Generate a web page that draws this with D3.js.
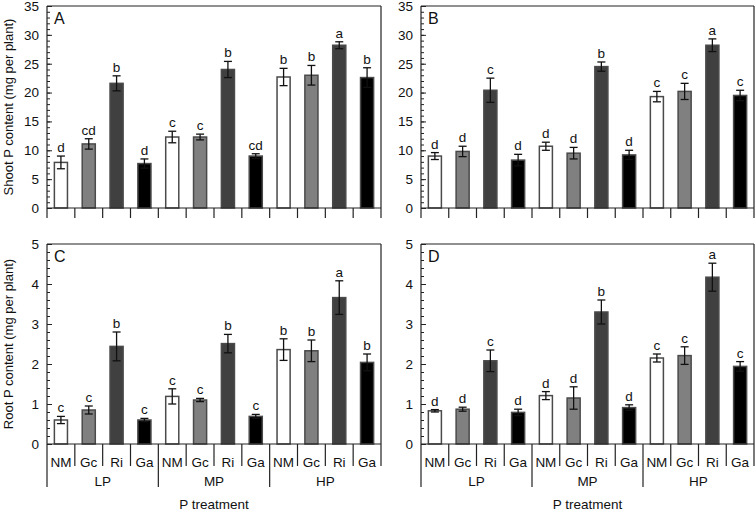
<!DOCTYPE html>
<html>
<head>
<meta charset="utf-8">
<script src="https://cdn.jsdelivr.net/npm/d3@7"></script>
<style>
  body { margin: 0; background: #fff; }
  text { font-family: "Liberation Sans", Arial, Helvetica, sans-serif; fill: #111; }
</style>
</head>
<body>
<div id="chart"></div>
<script>
// P treatment groups and inoculation treatments
const groups = ['LP', 'MP', 'HP']
const fungi = ['NM', 'Gc', 'Ri', 'Ga']
const fungusFill = ['#ffffff', '#808080', '#404040', '#000000']

// shoot P content, experiment A
const shootA = [7.9, 11.1, 21.6, 7.7, 12.3, 12.3, 24.0, 9.0, 22.7, 23.0, 28.2, 22.6]
const shootAErr = [1.1, 0.9, 1.3, 0.8, 1.0, 0.5, 1.4, 0.4, 1.5, 1.7, 0.6, 1.7]
const shootALetters = ['d', 'cd', 'b', 'd', 'c', 'c', 'b', 'cd', 'b', 'b', 'a', 'b']

// shoot P content, experiment B
const shootB = [9.0, 9.8, 20.4, 8.3, 10.7, 9.5, 24.5, 9.2, 19.3, 20.2, 28.2, 19.5]
const shootBErr = [0.6, 0.9, 2.1, 1.0, 0.7, 1.0, 0.8, 0.8, 0.9, 1.4, 1.1, 0.9]
const shootBLetters = ['d', 'd', 'c', 'd', 'd', 'd', 'b', 'd', 'c', 'c', 'a', 'c']

// root P content, experiment C
const rootC = [0.60, 0.85, 2.44, 0.60, 1.19, 1.10, 2.51, 0.69, 2.36, 2.33, 3.66, 2.04]
const rootCErr = [0.09, 0.10, 0.36, 0.04, 0.19, 0.04, 0.23, 0.05, 0.27, 0.27, 0.42, 0.21]
const rootCLetters = ['c', 'c', 'b', 'c', 'c', 'c', 'b', 'c', 'b', 'b', 'a', 'b']

// root P content, experiment D
const rootD = [0.83, 0.87, 2.08, 0.79, 1.21, 1.15, 3.30, 0.91, 2.15, 2.21, 4.17, 1.94]
const rootDErr = [0.03, 0.05, 0.27, 0.08, 0.10, 0.28, 0.30, 0.07, 0.10, 0.22, 0.35, 0.12]
const rootDLetters = ['d', 'd', 'c', 'd', 'd', 'd', 'b', 'd', 'c', 'c', 'a', 'c']

const shootTicks = [0, 5, 10, 15, 20, 25, 30, 35]
const rootTicks = [0, 1, 2, 3, 4, 5]

const width = 756, height = 517
const axisColor = '#222'
const fontSize = '13.5px'

const svg = d3.select('#chart').append('svg')
    .attr('width', width)
    .attr('height', height)

const keys = []
groups.forEach(g => fungi.forEach(f => keys.push(g + '-' + f)))

const panels = [
    { id: 'A', values: shootA, err: shootAErr, letters: shootALetters, max: 35, ticks: shootTicks, minor: 1, x0: 47, x1: 381, top: 6, bottom: 208, labels: false },
    { id: 'B', values: shootB, err: shootBErr, letters: shootBLetters, max: 35, ticks: shootTicks, minor: 1, x0: 421, x1: 754, top: 6, bottom: 208, labels: false },
    { id: 'C', values: rootC, err: rootCErr, letters: rootCLetters, max: 5, ticks: rootTicks, minor: 0.2, x0: 47, x1: 381, top: 244, bottom: 444, labels: true },
    { id: 'D', values: rootD, err: rootDErr, letters: rootDLetters, max: 5, ticks: rootTicks, minor: 0.2, x0: 421, x1: 754, top: 244, bottom: 444, labels: true },
]

function drawPanel(p) {
    const x = d3.scaleBand().domain(keys).range([p.x0, p.x1]).padding(0)
    const y = d3.scaleLinear().domain([0, p.max]).range([p.bottom, p.top])
    const bw = x.bandwidth() * 0.47
    const g = svg.append('g')

    const data = keys.map((k, i) => ({
        key: k, group: groups[Math.floor(i / 4)], fungus: fungi[i % 4],
        fill: fungusFill[i % 4], value: p.values[i], err: p.err[i], letter: p.letters[i]
    }))

    // bars
    g.selectAll('rect.bar').data(data).enter().append('rect')
        .attr('class', 'bar')
        .attr('x', d => x(d.key) + (x.bandwidth() - bw) / 2)
        .attr('width', bw)
        .attr('y', d => y(d.value))
        .attr('height', d => y(0) - y(d.value))
        .attr('fill', d => d.fill)
        .attr('stroke', '#4a4a4a')
        .attr('stroke-width', 1.5)

    // error bars
    const cx = d => x(d.key) + x.bandwidth() / 2
    const eb = g.selectAll('g.err').data(data).enter().append('g')
        .attr('class', 'err')
        .attr('stroke', '#111')
        .attr('stroke-width', 1.3)
    eb.append('line')
        .attr('x1', cx).attr('x2', cx)
        .attr('y1', d => y(d.value - d.err)).attr('y2', d => y(d.value + d.err))
    eb.append('line')
        .attr('x1', d => cx(d) - 4).attr('x2', d => cx(d) + 4)
        .attr('y1', d => y(d.value + d.err)).attr('y2', d => y(d.value + d.err))
    eb.append('line')
        .attr('x1', d => cx(d) - 4).attr('x2', d => cx(d) + 4)
        .attr('y1', d => y(d.value - d.err)).attr('y2', d => y(d.value - d.err))

    // significance letters
    g.selectAll('text.letter').data(data).enter().append('text')
        .attr('class', 'letter')
        .attr('x', cx)
        .attr('y', d => y(d.value + d.err) - 4)
        .attr('text-anchor', 'middle')
        .style('font-size', fontSize)
        .text(d => d.letter)

    // y axis, ticks inward
    const minorTicks = d3.range(0, p.max + p.minor / 2, p.minor)
    g.append('g')
        .attr('transform', `translate(${p.x0},0)`)
        .call(d3.axisLeft(y).tickValues(minorTicks).tickSize(-3).tickFormat(''))
        .call(a => a.select('.domain').remove())
        .selectAll('line').attr('stroke', axisColor)
    const yAxis = g.append('g')
        .attr('transform', `translate(${p.x0},0)`)
        .call(d3.axisLeft(y).tickValues(p.ticks).tickSize(-5).tickPadding(8).tickFormat(d3.format('d')))
    yAxis.select('.domain').remove()
    yAxis.selectAll('line').attr('stroke', axisColor)
    yAxis.selectAll('text')
        .style('font-size', fontSize)
        .style('font-family', '"Liberation Sans", Arial, sans-serif')
        .attr('fill', '#111')

    // frame: left, top, right and zero line
    const below = p.labels ? 22 : 10
    const axisDepth = p.labels ? 43 : 10
    g.append('line').attr('x1', p.x0).attr('x2', p.x0).attr('y1', p.top).attr('y2', p.bottom + axisDepth)
        .attr('stroke', axisColor).attr('stroke-width', 1.2)
    g.append('line').attr('x1', p.x0).attr('x2', p.x1).attr('y1', p.top).attr('y2', p.top)
        .attr('stroke', axisColor).attr('stroke-width', 1.2)
    g.append('line').attr('x1', p.x1).attr('x2', p.x1).attr('y1', p.top).attr('y2', p.bottom + below)
        .attr('stroke', axisColor).attr('stroke-width', 1.2)
    g.append('line').attr('x1', p.x0).attr('x2', p.x1).attr('y1', y(0)).attr('y2', y(0))
        .attr('stroke', axisColor).attr('stroke-width', 1.2)

    // category dividers below the zero line
    const inner = keys.slice(1)
    g.selectAll('line.div').data(inner).enter().append('line')
        .attr('class', 'div')
        .attr('x1', k => x(k)).attr('x2', k => x(k))
        .attr('y1', y(0))
        .attr('y2', (k, i) => (p.labels && (i + 1) % 4 === 0) ? p.bottom + axisDepth : p.bottom + below)
        .attr('stroke', axisColor).attr('stroke-width', 1.2)

    if (p.labels) {
        g.selectAll('text.cat').data(data).enter().append('text')
            .attr('class', 'cat')
            .attr('x', cx)
            .attr('y', p.bottom + 23)
            .attr('text-anchor', 'middle')
            .style('font-size', fontSize)
            .text(d => d.fungus)
        g.selectAll('text.grp').data(groups).enter().append('text')
            .attr('class', 'grp')
            .attr('x', gr => (x(gr + '-NM') + x(gr + '-Ga') + x.bandwidth()) / 2)
            .attr('y', p.bottom + 42)
            .attr('text-anchor', 'middle')
            .style('font-size', fontSize)
            .text(gr => gr)
        g.append('text')
            .attr('x', (p.x0 + p.x1) / 2)
            .attr('y', p.bottom + 65)
            .attr('text-anchor', 'middle')
            .style('font-size', fontSize)
            .text('P treatment')
    }

    // panel letter
    g.append('text')
        .attr('x', p.x0 + 7)
        .attr('y', p.top + 18)
        .style('font-size', '16px')
        .text(p.id)
}

panels.forEach(drawPanel)

// y axis titles
svg.append('text')
    .attr('transform', `translate(13,107) rotate(-90)`)
    .attr('text-anchor', 'middle')
    .style('font-size', '13px')
    .text('Shoot P content (mg per plant)')
svg.append('text')
    .attr('transform', `translate(13,344) rotate(-90)`)
    .attr('text-anchor', 'middle')
    .style('font-size', '13px')
    .text('Root P content (mg per plant)')
</script>
</body>
</html>
